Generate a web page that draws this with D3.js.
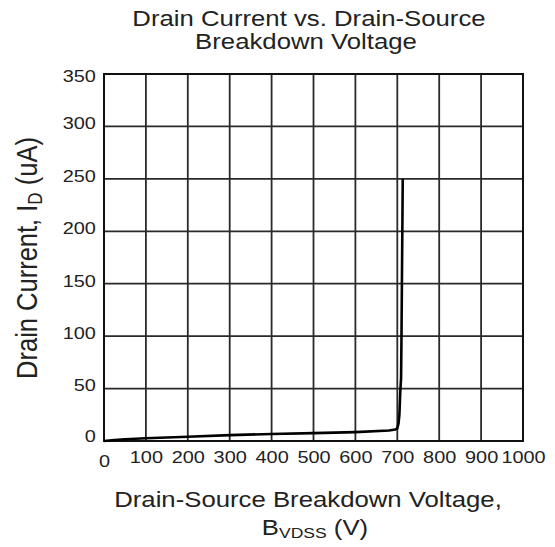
<!DOCTYPE html>
<html>
<head>
<meta charset="utf-8">
<script src="https://cdn.jsdelivr.net/npm/d3@7"></script>
<style>
  body { margin: 0; background: #fff; }
  text { font-family: "Liberation Sans", Arial, sans-serif; fill: #222; }
</style>
</head>
<body>
<svg id="chart"></svg>
<script>
// values
let voltage = [0, 25, 50, 100, 200, 300, 400, 500, 600, 680, 695, 700, 703, 705, 706, 707, 709, 710, 711, 712, 713],
    current = [0, 0.9, 1.6, 2.6, 4.1, 5.6, 6.7, 7.5, 8.5, 10, 11, 12, 17, 25, 35, 46, 60, 100, 150, 200, 250],
    xTicks = [0, 100, 200, 300, 400, 500, 600, 700, 800, 900, 1000],
    yTicks = [0, 50, 100, 150, 200, 250, 300, 350];

let width = 555, height = 547, stretch = 1.17,
    pLeft = 104, pRight = 523, pTop = 74, pBottom = 441,
    data = voltage.map((v, i) => ({v: v, i: current[i]})),
    xScale = d3.scaleLinear().domain([0, 1000]).range([pLeft, pRight]),
    yScale = d3.scaleLinear().domain([0, 350]).range([pBottom, pTop]),
    svg = d3.select("#chart").attr("width", width).attr("height", height);

// grid
svg.append("g")
   .selectAll("line")
   .data(xTicks)
   .enter()
   .append("line")
   .attr("x1", d => xScale(d)).attr("x2", d => xScale(d))
   .attr("y1", pTop).attr("y2", pBottom)
   .attr("stroke", "#2a2a2a").attr("stroke-width", 1.8);

svg.append("g")
   .selectAll("line")
   .data(yTicks)
   .enter()
   .append("line")
   .attr("x1", pLeft).attr("x2", pRight)
   .attr("y1", d => yScale(d)).attr("y2", d => yScale(d))
   .attr("stroke", "#2a2a2a").attr("stroke-width", 1.8);

svg.append("rect")
   .attr("x", pLeft).attr("y", pTop)
   .attr("width", pRight - pLeft).attr("height", pBottom - pTop)
   .attr("fill", "none").attr("stroke", "#111").attr("stroke-width", 2);

// axes (labels only)
let xAxis = svg.append("g")
   .attr("transform", `translate(0,${pBottom})`)
   .call(d3.axisBottom(xScale).tickValues(xTicks).tickFormat(d3.format("d")).tickSize(0).tickPadding(10));
xAxis.selectAll("text")
   .attr("font-size", 17)
   .attr("dy", d => d === 0 ? "0.95em" : "0.71em")
   .attr("transform", `scale(${stretch},1)`);
xAxis.select(".domain").remove();

let yAxis = svg.append("g")
   .attr("transform", `translate(${pLeft},0)`)
   .call(d3.axisLeft(yScale).tickValues(yTicks).tickSize(0).tickPadding(7));
yAxis.selectAll("text")
   .attr("font-size", 17)
   .attr("dy", d => d === 350 ? "0.44em" : d === 0 ? "0.05em" : "0.14em")
   .attr("transform", `scale(${stretch},1)`);
yAxis.select(".domain").remove();

// curve
svg.append("path")
   .datum(data)
   .attr("d", d3.line().x(d => xScale(d.v)).y(d => yScale(d.i)))
   .attr("fill", "none")
   .attr("stroke", "#000")
   .attr("stroke-width", 2.6)
   .attr("stroke-linejoin", "round");

// titles
function label(x, y, size) {
  return svg.append("text")
    .attr("transform", `translate(${x},${y}) scale(${stretch},1)`)
    .attr("text-anchor", "middle").attr("font-size", size);
}
label(309, 26, 22).text("Drain Current vs. Drain-Source");
label(306, 49, 22).text("Breakdown Voltage");

label(308, 507, 22).text("Drain-Source Breakdown Voltage,");
let sub = label(315, 535, 22);
sub.append("tspan").text("B");
sub.append("tspan").attr("font-size", 15).attr("dy", 3).text("VDSS");
sub.append("tspan").attr("dy", -3).text(" (V)");

let yt = svg.append("text")
   .attr("transform", `translate(37,258) scale(${stretch},1) rotate(-90)`)
   .attr("text-anchor", "middle").attr("font-size", 25.5);
yt.append("tspan").text("Drain Current, I");
yt.append("tspan").attr("font-size", 17).attr("dy", 4).text("D");
yt.append("tspan").attr("dy", -4).text(" (uA)");
</script>
</body>
</html>
